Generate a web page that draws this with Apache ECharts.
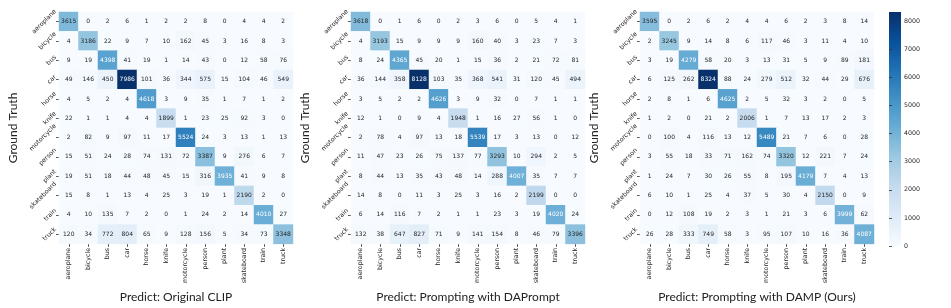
<!DOCTYPE html>
<html>
<head>
<meta charset="utf-8">
<script src="https://cdn.jsdelivr.net/npm/echarts@6/dist/echarts.min.js"></script>
<style>html,body{margin:0;padding:0;background:#fff;}#c{width:951px;height:308px;}</style>
</head>
<body>
<div id="c"></div>
<script>
const categories = ['aeroplane','bicycle','bus','car','horse','knife','motorcycle','person','plant','skateboard','train','truck'];

const clipMatrix = [
  [3615, 0, 2, 6, 1, 2, 2, 8, 0, 4, 4, 2],
  [4, 3186, 22, 9, 7, 10, 162, 45, 3, 16, 8, 3],
  [9, 19, 4398, 41, 19, 1, 14, 43, 0, 12, 58, 76],
  [49, 146, 450, 7986, 101, 36, 344, 575, 15, 104, 46, 549],
  [4, 5, 2, 4, 4618, 3, 9, 35, 1, 7, 1, 2],
  [22, 1, 1, 4, 4, 1899, 1, 23, 25, 92, 3, 0],
  [2, 82, 9, 97, 11, 17, 5524, 24, 3, 13, 1, 13],
  [15, 51, 24, 28, 74, 131, 72, 3387, 9, 276, 6, 7],
  [19, 51, 18, 44, 48, 45, 15, 316, 3935, 41, 9, 8],
  [15, 8, 1, 13, 4, 25, 3, 19, 1, 2190, 2, 0],
  [4, 10, 135, 7, 2, 0, 1, 24, 2, 14, 4010, 27],
  [120, 34, 772, 804, 65, 9, 128, 156, 5, 34, 73, 3348]
];

const dapromptMatrix = [
  [3618, 0, 1, 6, 0, 2, 3, 6, 0, 5, 4, 1],
  [4, 3193, 15, 9, 9, 9, 160, 40, 3, 23, 7, 3],
  [8, 24, 4365, 45, 20, 1, 15, 36, 2, 21, 72, 81],
  [36, 144, 358, 8128, 103, 35, 368, 541, 31, 120, 45, 494],
  [3, 5, 2, 2, 4626, 3, 9, 32, 0, 7, 1, 1],
  [12, 1, 0, 9, 4, 1948, 1, 16, 27, 56, 1, 0],
  [2, 78, 4, 97, 13, 18, 5539, 17, 3, 13, 0, 12],
  [11, 47, 23, 26, 75, 137, 77, 3293, 10, 294, 2, 5],
  [8, 44, 13, 35, 43, 48, 14, 288, 4007, 35, 7, 7],
  [14, 8, 0, 11, 3, 25, 3, 16, 2, 2199, 0, 0],
  [6, 14, 116, 7, 2, 1, 1, 23, 3, 19, 4020, 24],
  [132, 38, 647, 827, 71, 9, 141, 154, 8, 46, 79, 3396]
];

const dampMatrix = [
  [3595, 0, 2, 6, 2, 4, 4, 6, 2, 3, 8, 14],
  [2, 3245, 9, 14, 8, 6, 117, 46, 3, 11, 4, 10],
  [3, 19, 4279, 58, 20, 3, 13, 31, 5, 9, 89, 181],
  [6, 125, 262, 8324, 88, 24, 279, 512, 32, 44, 29, 676],
  [2, 8, 1, 6, 4625, 2, 5, 32, 3, 2, 0, 5],
  [1, 2, 0, 21, 2, 2006, 1, 7, 13, 17, 2, 3],
  [0, 100, 4, 116, 13, 12, 5489, 21, 7, 6, 0, 28],
  [3, 55, 18, 33, 71, 162, 74, 3320, 12, 221, 7, 24],
  [1, 24, 7, 30, 26, 55, 8, 195, 4179, 7, 4, 13],
  [6, 10, 1, 25, 4, 37, 5, 30, 4, 2150, 0, 9],
  [0, 12, 108, 19, 2, 3, 1, 21, 3, 6, 3999, 62],
  [26, 28, 333, 749, 58, 3, 95, 107, 10, 16, 36, 4087]
];

const titles = ['Predict: Original CLIP', 'Predict: Prompting with DAPrompt', 'Predict: Prompting with DAMP (Ours)'];
const yAxisTitle = 'Ground Truth';
const colorbarInterval = 1000;

const blues = ['#f7fbff','#deebf7','#c6dbef','#9ecae1','#6baed6','#4292c6','#2171b5','#08519c','#08306b'];
const matrices = [clipMatrix, dapromptMatrix, dampMatrix];
const gridLefts = [59, 351, 640];
const gridTop = 12, gridSize = 234;
const tickFont = 'DejaVu Sans';
const tickSize = 6.3;
const annotSize = 6;
const titleFont = 'Lato';
const titleSize = 12;

// measure label widths to emulate matplotlib rotated label alignment
const ctx = document.createElement('canvas').getContext('2d');
ctx.font = tickSize + 'px "' + tickFont + '"';
const yRich = {};
categories.forEach((c, i) => {
  const L = ctx.measureText(c).width;
  const h = 6, pad0 = 1.5;
  const P = 0.5 * (L + h) + 1.414 * pad0;
  yRich['r' + i] = { padding: [0, P, P, 0], fontSize: tickSize, fontFamily: tickFont, color: '#262626' };
});

function toData(m) {
  const out = [];
  m.forEach((row, y) => row.forEach((v, x) => out.push([x, y, v])));
  return out;
}
function maxOf(m) { return Math.max(...m.map(r => Math.max(...r))); }

const grids = [], xAxes = [], yAxes = [], series = [], visualMaps = [];
matrices.forEach((m, i) => {
  const mx = maxOf(m);
  grids.push({ left: gridLefts[i], top: gridTop, width: gridSize, height: gridSize, containLabel: false });
  xAxes.push({
    gridIndex: i, type: 'category', data: categories,
    axisLine: { show: false },
    axisTick: { show: true, length: 3, alignWithLabel: true, lineStyle: { color: '#333', width: 0.8 } },
    axisLabel: { rotate: 90, interval: 0, fontSize: tickSize, fontFamily: tickFont, color: '#262626', margin: 4 },
    splitLine: { show: false },
    name: titles[i], nameLocation: 'middle', nameGap: 43,
    nameTextStyle: { fontSize: titleSize, fontFamily: titleFont, color: '#222' }
  });
  yAxes.push({
    gridIndex: i, type: 'category', data: categories, inverse: true,
    axisLine: { show: false },
    axisTick: { show: true, length: 3, alignWithLabel: true, lineStyle: { color: '#333', width: 0.8 } },
    axisLabel: {
      rotate: 45, interval: 0, margin: 0, align: 'center', verticalAlign: 'middle',
      formatter: (v, idx) => '{r' + idx + '|' + v + '}', rich: yRich
    },
    splitLine: { show: false },
    name: yAxisTitle, nameLocation: 'middle', nameGap: 40, nameRotate: 90,
    nameTextStyle: { fontSize: titleSize, fontFamily: titleFont, color: '#222' }
  });
  visualMaps.push({ show: false, seriesIndex: i, dimension: 2, min: 0, max: mx, inRange: { color: blues } });
  series.push({
    type: 'heatmap', xAxisIndex: i, yAxisIndex: i, data: toData(m),
    itemStyle: { borderWidth: 0 },
    emphasis: { disabled: true },
    label: {
      show: true, fontSize: annotSize, fontFamily: tickFont,
      formatter: p => (p.value[2] / mx > 0.46 ? '{w|' : '{d|') + p.value[2] + '}',
      rich: { w: { color: '#ffffff', fontSize: annotSize, fontFamily: tickFont }, d: { color: '#262626', fontSize: annotSize, fontFamily: tickFont } }
    }
  });
});

// colorbar
const cbMax = maxOf(dampMatrix);
grids.push({
  left: 889, top: gridTop, width: 12, height: gridSize, show: true, borderWidth: 0,
  backgroundColor: { type: 'linear', x: 0, y: 1, x2: 0, y2: 0,
    colorStops: blues.map((c, k) => ({ offset: k / (blues.length - 1), color: c })) }
});
xAxes.push({ gridIndex: 3, type: 'value', show: false });
yAxes.push({
  gridIndex: 3, type: 'value', min: 0, max: cbMax, interval: colorbarInterval, position: 'right',
  axisLine: { show: false },
  axisTick: { show: true, length: 3, lineStyle: { color: '#333', width: 0.8 } },
  axisLabel: { fontSize: tickSize, fontFamily: tickFont, color: '#262626', margin: 3, showMaxLabel: false,
    formatter: v => String(v) },
  splitLine: { show: false }
});

const chart = echarts.init(document.getElementById('c'), null, { renderer: 'canvas' });
chart.setOption({
  animation: false,
  backgroundColor: '#ffffff',
  grid: grids, xAxis: xAxes, yAxis: yAxes, visualMap: visualMaps, series: series
});
</script>
</body>
</html>
